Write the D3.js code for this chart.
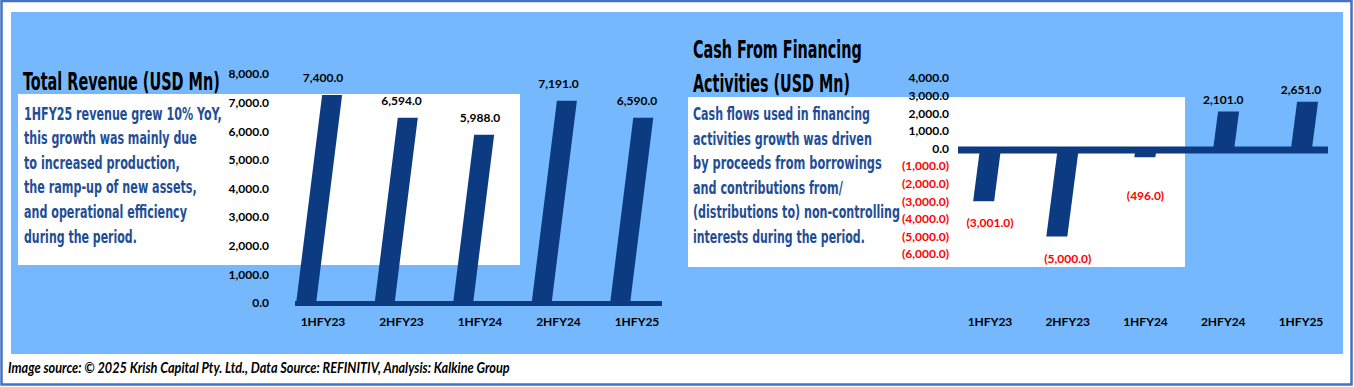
<!DOCTYPE html>
<html>
<head>
<meta charset="utf-8">
<script src="https://cdn.jsdelivr.net/npm/d3@7"></script>
<style>
  html, body { margin: 0; padding: 0; background: #ffffff; }
  svg { display: block; }
</style>
</head>
<body>
<svg id="chart" width="1354" height="387"></svg>
<script>
// ---------- data ----------
const categories = ["1HFY23", "2HFY23", "1HFY24", "2HFY24", "1HFY25"];
const revenueValues = [7400, 6594, 5988, 7191, 6590];
const financingValues = [-3001, -5000, -496, 2101, 2651];
const revenueTicks = [0, 1000, 2000, 3000, 4000, 5000, 6000, 7000, 8000];
const financingTicks = [-6000, -5000, -4000, -3000, -2000, -1000, 0, 1000, 2000, 3000, 4000];

const revenueTitle = ["Total Revenue (USD Mn)"];
const revenueNote = [
  "1HFY25 revenue grew 10% YoY,",
  "this growth was mainly due",
  "to increased production,",
  "the ramp-up of new assets,",
  "and operational efficiency",
  "during the period."
];
const financingTitle = ["Cash From Financing", "Activities (USD Mn)"];
const financingNote = [
  "Cash flows used in financing",
  "activities growth was driven",
  "by proceeds from borrowings",
  "and contributions from/",
  "(distributions to) non-controlling",
  "interests during the period."
];
const footerText = "Image source: \u00A9 2025 Krish Capital Pty. Ltd., Data Source: REFINITIV, Analysis: Kalkine Group";

// ---------- style ----------
const PANEL = "#75B8FD";
const BAR = "#0C3B82";
const NOTE = "#1F4E96";
const condensed = "'Liberation Sans Narrow', 'DejaVu Sans Condensed', 'Roboto Condensed', 'Noto Sans', sans-serif";
const labelFont = "Lato, 'Open Sans', 'Liberation Sans', sans-serif";

const svg = d3.select("#chart");

// page frame + panel
svg.append("rect").attr("x", 1.5).attr("y", 1).attr("width", 1350).attr("height", 383.5)
  .attr("fill", "#ffffff").attr("stroke", "#4472C4").attr("stroke-width", 2.5);
svg.append("rect").attr("x", 11).attr("y", 12).attr("width", 1332).attr("height", 342)
  .attr("fill", PANEL);

// white note boxes
svg.append("rect").attr("x", 18).attr("y", 94).attr("width", 502).attr("height", 171).attr("fill", "#ffffff");
svg.append("rect").attr("x", 688).attr("y", 97).attr("width", 497).attr("height", 170).attr("fill", "#ffffff");

// text helper: sets the font size so the natural width equals len,
// then stretches vertically so the glyph height matches `size`.
function fitText(g, str, x, y, len, size, color, weight, style, family) {
  const t = g.append("text").attr("x", 0).attr("y", 0)
    .attr("font-family", family).attr("font-size", size)
    .attr("font-weight", weight).attr("font-style", style || "normal")
    .attr("fill", color)
    .text(str);
  const natural = t.node().getComputedTextLength();
  const fs = size * len / natural;
  t.attr("font-size", fs)
   .attr("transform", `translate(${x},${y}) scale(1,${(size / fs).toFixed(4)})`);
}

const txt = svg.append("g");
// titles
fitText(txt, revenueTitle[0], 23, 90, 197, 25, "#000", "bold", "normal", condensed);
const t2Len = [169, 157];
financingTitle.forEach((s, i) => fitText(txt, s, 693, 58 + i * 34, t2Len[i], 24, "#000", "bold", "normal", condensed));
// notes
const n1Len = [198, 173, 156, 173, 163, 113];
revenueNote.forEach((s, i) => fitText(txt, s, 24, 119.5 + i * 24.6, n1Len[i], 17, NOTE, "bold", "normal", condensed));
const n2Len = [177, 179, 189, 150, 207, 172];
financingNote.forEach((s, i) => fitText(txt, s, 693, 120 + i * 24.5, n2Len[i], 17, NOTE, "bold", "normal", condensed));
// footer
fitText(txt, footerText, 8, 373, 502, 16, "#000", "bold", "italic", labelFont);

const fmtPos = d3.format(",.1f");
const fmt = v => v < 0 ? "(" + fmtPos(-v) + ")" : fmtPos(v);

function drawChart(opts) {
  const g = svg.append("g");
  const x = d3.scalePoint().domain(categories).range(opts.xRange);
  const yAxisScale = d3.scaleLinear().domain(opts.domain).range(opts.axisRange);
  const yBar = d3.scaleLinear().domain(opts.domain).range(opts.barRange);

  // axis labels
  const axis = d3.axisLeft(yAxisScale).tickValues(opts.ticks).tickFormat(fmt).tickSize(0).tickPadding(0);
  const ag = g.append("g").attr("transform", `translate(${opts.axisX},0)`).call(axis);
  ag.select(".domain").remove();
  ag.selectAll("text")
    .attr("font-family", labelFont).attr("font-size", 12).attr("font-weight", "bold")
    .attr("fill", d => d < 0 ? "#FF0000" : "#000");

  // floor band
  const first = x(categories[0]), last = x(categories[categories.length - 1]);
  g.append("rect").attr("x", first + opts.bandL).attr("y", opts.bandY)
    .attr("width", (last + opts.bandR) - (first + opts.bandL)).attr("height", opts.bandH)
    .attr("fill", BAR);

  // bars (sheared for 3D look)
  const y0 = yBar(0);
  g.selectAll("polygon.bar").data(opts.values).enter().append("polygon")
    .attr("class", "bar")
    .attr("fill", BAR)
    .attr("points", (v, i) => {
      const x0 = x(categories[i]) + opts.barOff;
      const y1 = yBar(v);
      const s = opts.shear * (y0 - y1);
      return [[x0, y0], [x0 + opts.barW, y0], [x0 + opts.barW + s, y1], [x0 + s, y1]].map(p => p.join(",")).join(" ");
    });

  // value labels
  g.selectAll("text.val").data(opts.values).enter().append("text")
    .attr("class", "val")
    .attr("x", (v, i) => x(categories[i]))
    .attr("y", v => v >= 0 ? yBar(v) - opts.posGap : Math.max(yBar(v) + opts.negGap, y0 + opts.negMin))
    .attr("dy", "0.35em")
    .attr("text-anchor", "middle")
    .attr("font-family", labelFont).attr("font-size", 12).attr("font-weight", "bold")
    .attr("fill", v => v < 0 ? "#FF0000" : "#000")
    .text(fmt);

  // category labels
  g.selectAll("text.cat").data(categories).enter().append("text")
    .attr("class", "cat")
    .attr("x", d => x(d)).attr("y", 322).attr("dy", "0.35em")
    .attr("text-anchor", "middle")
    .attr("font-family", labelFont).attr("font-size", 12).attr("font-weight", "bold")
    .attr("fill", "#000")
    .text(d => d);
}

drawChart({
  values: revenueValues, ticks: revenueTicks,
  domain: [0, 8000], axisRange: [303, 74], barRange: [304, 78],
  xRange: [323, 637], axisX: 269,
  bandL: -28, bandR: 25, bandY: 301, bandH: 5,
  barOff: -27, barW: 20, shear: 0.125,
  posGap: 17, negGap: 22, negMin: 0
});

drawChart({
  values: financingValues, ticks: financingTicks,
  domain: [-6000, 4000], axisRange: [254, 78], barRange: [254, 78],
  xRange: [990, 1301], axisX: 949,
  bandL: -32, bandR: 27, bandY: 146.5, bandH: 7,
  barOff: -10, barW: 21, shear: 0.13,
  posGap: 12, negGap: 22, negMin: 47
});
</script>
</body>
</html>
